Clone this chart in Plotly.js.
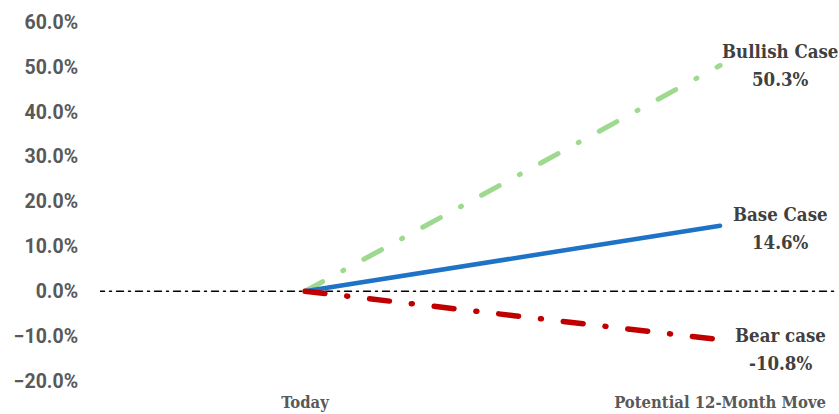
<!DOCTYPE html>
<html><head><meta charset="utf-8">
<script src="https://cdn.plot.ly/plotly-3.0.1.min.js"></script>
<style>
html,body{margin:0;padding:0;background:#fff;}
#chart{width:839px;height:414px;}
.scatterlayer path.js-line{stroke-linecap:round !important;}
</style></head>
<body><div id="chart"></div>
<script>
const xPositions = [0, 1];
const xTickLabels = ["Today", "Potential 12-Month Move"];
const bullish = [0, 0.503];
const base = [0, 0.146];
const bear = [0, -0.108];
const caseNames = ["Bullish Case", "Base Case", "Bear case"];
const caseValues = [0.503, 0.146, -0.108];
const zeroLineX = [-0.5, 1.3];
const zeroLineY = [0, 0];

const traces = [
  {x: zeroLineX, y: zeroLineY, mode: "lines", line: {color: "#000", width: 1.5, dash: "7px,5px,2px,5px"}, hoverinfo: "skip"},
  {x: xPositions, y: bullish, mode: "lines", line: {color: "#9dd98e", width: 5, dash: "20px,23px,1px,23px"}},
  {x: xPositions, y: base, mode: "lines", line: {color: "#1f73c6", width: 4.5}},
  {x: xPositions, y: bear, mode: "lines", line: {color: "#c00000", width: 5.5, dash: "20px,22px,1px,22px"}}
];

const centerShifts = [0, -3, -10];
const annFont = {family: "DejaVu Serif Condensed, DejaVu Serif", size: 18.5, color: "#404040"};
const annotations = [];
caseNames.forEach((n, i) => {
  annotations.push({
    x: 1.145, y: caseValues[i], xref: "x", yref: "y",
    text: "<b>" + n + "</b>", showarrow: false, xanchor: "center", yanchor: "middle",
    yshift: centerShifts[i] + 14, font: annFont
  });
  annotations.push({
    x: 1.145, y: caseValues[i], xref: "x", yref: "y",
    text: "<b>" + (caseValues[i] * 100).toFixed(1) + "%</b>", showarrow: false, xanchor: "center", yanchor: "middle",
    yshift: centerShifts[i] - 14, font: annFont
  });
});

const layout = {
  width: 839, height: 414,
  margin: {l: 100, r: 4, t: 22, b: 33},
  paper_bgcolor: "#fff", plot_bgcolor: "#fff",
  showlegend: false,
  xaxis: {
    range: [-0.494, 1.277], tickvals: xPositions, ticktext: xTickLabels.map(t => "<b>" + t + "</b>"),
    showgrid: false, zeroline: false, showline: false,
    ticks: "outside", ticklen: 6, tickcolor: "rgba(0,0,0,0)",
    tickfont: {family: "DejaVu Serif Condensed, DejaVu Serif", size: 16.5, color: "#595959"}
  },
  yaxis: {
    range: [-0.2, 0.6], dtick: 0.1, tickformat: ".1%",
    showgrid: false, zeroline: false, showline: false,
    ticks: "outside", ticklen: 17, tickcolor: "rgba(0,0,0,0)",
    tickfont: {family: "Roboto", size: 19.5, color: "#595959", weight: "bold"}
  },
  annotations: annotations
};

Plotly.newPlot("chart", traces, layout, {displayModeBar: false, staticPlot: true});
</script></body></html>
